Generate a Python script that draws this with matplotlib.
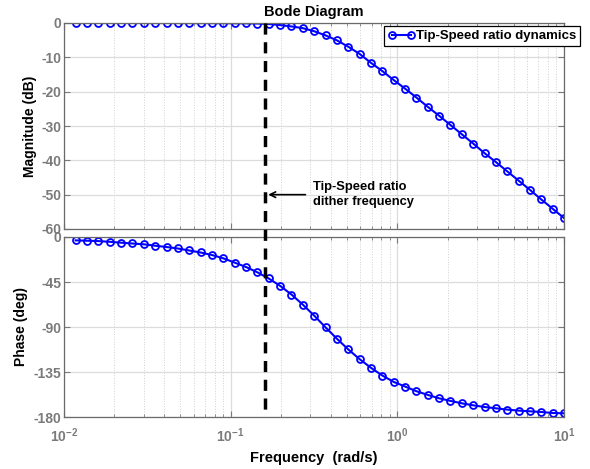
import matplotlib
matplotlib.use("Agg")
import matplotlib.pyplot as plt
import matplotlib.transforms as mtransforms
from matplotlib.lines import Line2D
from matplotlib.ticker import LogLocator, NullFormatter

plt.rcParams['font.family'] = ['Liberation Sans', 'DejaVu Sans']
plt.rcParams['font.weight'] = 'bold'
plt.rcParams['axes.unicode_minus'] = False
plt.rcParams['mathtext.default'] = 'regular'

# sample frequencies (rad/s)
freq = [0.011749, 0.013740, 0.016077, 0.018810, 0.022013, 0.025753, 0.030124,
        0.035237, 0.041219, 0.048228, 0.056417, 0.066004, 0.077219, 0.090326,
        0.10568, 0.12363, 0.14462, 0.16921, 0.19793, 0.23159, 0.27091, 0.31694,
        0.37079, 0.43376, 0.50750, 0.59363, 0.69455, 0.81264, 0.95040, 1.1120,
        1.3008, 1.5214, 1.7803, 2.0827, 2.4366, 2.8503, 3.3343, 3.9010, 4.5635,
        5.3396, 6.2460, 7.3079, 8.5499, 10.0]

# magnitude (dB)
mag = [0.0, 0.0, 0.0, 0.0, 0.0, 0.0, 0.0, -0.01, -0.01, -0.02, -0.02, -0.03,
       -0.04, -0.06, -0.08, -0.1, -0.15, -0.3, -0.6, -1.0, -1.5, -2.4, -3.6,
       -5.05, -6.9, -9.0, -11.6, -14.0, -16.6, -19.1, -21.7, -24.4, -27.0,
       -29.7, -32.4, -35.1, -37.9, -40.5, -43.2, -45.9, -48.6, -51.4, -54.1,
       -56.8]

# phase (deg)
phase = [-3.4, -3.7, -4.1, -4.8, -5.7, -6.5, -7.3, -8.7, -10.0, -11.5, -13.5,
         -15.5, -18.0, -21.3, -25.6, -30.0, -35.3, -41.5, -48.8, -57.5, -67.6,
         -78.6, -90.3, -101.7, -112.4, -122.1, -130.8, -138.5, -144.9, -149.5,
         -154.2, -157.9, -161.3, -163.9, -166.3, -168.3, -170.0, -171.3,
         -172.6, -173.6, -174.3, -175.0, -176.0, -176.3]

dither_freq = 0.16
mag_ticks = [0, -10, -20, -30, -40, -50, -60]
phase_ticks = [0, -45, -90, -135, -180]

tick_gray = '#7a7a7a'
W, H = 590, 469
fig = plt.figure(figsize=(W / 100, H / 100), dpi=100)
ax1 = fig.add_axes([64 / W, 1 - 229 / H, 500 / W, 206 / H])
ax2 = fig.add_axes([64 / W, 1 - 417 / H, 500 / W, 180 / H])


def style(ax):
    ax.set_xscale('log')
    ax.set_xlim(1e-2, 1e1)
    ax.xaxis.set_minor_locator(LogLocator(base=10, subs=range(2, 10)))
    ax.xaxis.set_minor_formatter(NullFormatter())
    ax.grid(True, which='major', color='#dcdcdc', lw=0.9, ls='-')
    ax.grid(True, which='minor', axis='x', color='#d0d0d0', lw=0.7, ls=':')
    ax.set_axisbelow(True)
    ax.tick_params(which='both', direction='in', top=True, right=True,
                   colors=tick_gray, labelsize=10)
    ax.tick_params(which='major', length=4, pad=2)
    ax.tick_params(axis='x', which='major', pad=7)
    ax.tick_params(which='minor', length=2.5)
    for s in ax.spines.values():
        s.set_color('#6a6a6a')
        s.set_linewidth(0.9)
    for lab in ax.get_xticklabels() + ax.get_yticklabels():
        lab.set_fontweight('bold')


ax1.plot(freq, mag, '-o', color='blue', lw=1.5, ms=5, mew=1.3,
         mfc='none', label='Tip-Speed ratio dynamics')
ax1.set_ylim(-60, 0)
ax1.set_yticks(mag_ticks)
ax1.set_ylabel('Magnitude (dB)', fontsize=10, fontweight='bold', labelpad=3)
ax1.set_title('Bode Diagram', fontsize=10.5, fontweight='bold', pad=5)
style(ax1)
ax1.tick_params(labelbottom=False)

ax2.plot(freq, phase, '-o', color='blue', lw=1.5, ms=5, mew=1.3, mfc='none')
ax2.set_ylim(-180, 0)
ax2.set_yticks(phase_ticks)
ax2.set_ylabel('Phase (deg)', fontsize=10, fontweight='bold', labelpad=4)
ax2.set_xlabel('Frequency  (rad/s)', fontsize=10.5, fontweight='bold', labelpad=4)
style(ax2)

# dither frequency marker spanning both panels
trans = mtransforms.blended_transform_factory(ax1.transData, fig.transFigure)
fig.add_artist(Line2D([dither_freq, dither_freq], [1 - 23 / H, 1 - 410 / H],
                      transform=trans, color='black', lw=2.5,
                      ls=(0, (3.2, 2.2)), zorder=5))

ax1.annotate('', xy=(0.168, -50), xytext=(0.281, -50),
             arrowprops=dict(arrowstyle='->', color='black', lw=1.2,
                             mutation_scale=10, shrinkA=0, shrinkB=0))
ax1.text(0.31, -50, 'Tip-Speed ratio\ndither frequency', fontsize=9.3,
         fontweight='bold', ha='left', va='center', linespacing=1.3)

leg = ax1.legend(loc='upper right', bbox_to_anchor=(580 / W, 1 - 26 / H),
                 bbox_transform=fig.transFigure, borderaxespad=0,
                 numpoints=2, handlelength=2.0, handletextpad=0.1,
                 fancybox=False, framealpha=1, edgecolor='black',
                 prop={'size': 9.5, 'weight': 'bold'}, borderpad=0.3)
leg.get_frame().set_linewidth(0.9)

fig.savefig('out.png', dpi=100)
